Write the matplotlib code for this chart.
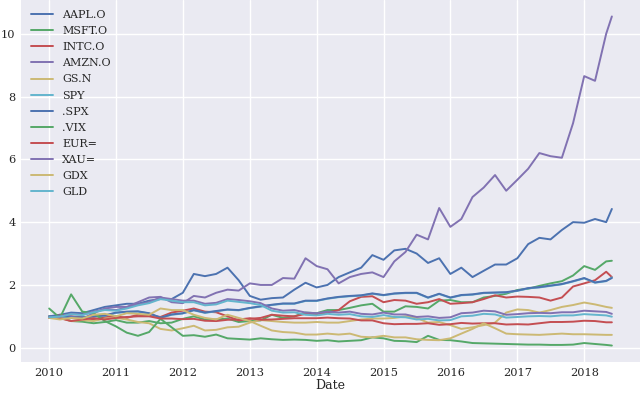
import pandas as pd
import matplotlib
matplotlib.use("Agg")
import matplotlib.pyplot as plt
import matplotlib.dates as mdates

# every second month from Jan 2010, plus the last month (Jun 2018)
months = list(range(0, 101, 2)) + [101]
dates = [pd.Timestamp("2010-01-01") + pd.DateOffset(months=m) for m in months]

aapl = [1.0, 1.05, 1.12, 1.1, 1.2, 1.3,
        1.35, 1.4, 1.4, 1.5, 1.55, 1.55,
        1.75, 2.35, 2.28, 2.35, 2.55, 2.15,
        1.65, 1.53, 1.58, 1.6, 1.85, 2.07,
        1.92, 2.0, 2.25, 2.4, 2.55, 2.95,
        2.8, 3.1, 3.15, 3.0, 2.7, 2.85,
        2.35, 2.55, 2.25, 2.45, 2.65, 2.65,
        2.85, 3.3, 3.5, 3.45, 3.75, 4.0,
        3.98, 4.1, 4.0, 4.42]
msft = [1.0, 0.97, 0.85, 0.83, 0.78, 0.82,
        0.88, 0.8, 0.8, 0.85, 0.78, 0.8,
        0.92, 1.0, 0.9, 0.9, 0.93, 0.82,
        0.85, 0.87, 1.05, 0.95, 1.0, 1.12,
        1.1, 1.2, 1.2, 1.27, 1.35, 1.4,
        1.15, 1.15, 1.32, 1.3, 1.25, 1.5,
        1.52, 1.45, 1.45, 1.6, 1.65, 1.72,
        1.84, 1.88, 1.97, 2.05, 2.12, 2.3,
        2.6, 2.48, 2.75, 2.77]
intc = [0.95, 1.05, 1.0, 0.97, 0.9, 0.98,
        1.0, 0.95, 1.05, 1.03, 0.98, 1.12,
        1.18, 1.25, 1.15, 1.13, 1.0, 0.87,
        0.92, 0.95, 1.05, 1.02, 1.0, 1.08,
        1.07, 1.12, 1.2, 1.48, 1.62, 1.64,
        1.45, 1.52, 1.5, 1.4, 1.45, 1.55,
        1.4, 1.42, 1.45, 1.55, 1.67, 1.6,
        1.63, 1.62, 1.6, 1.5, 1.6, 1.95,
        2.05, 2.15, 2.42, 2.25]
amzn = [1.0, 0.98, 1.0, 0.92, 1.1, 1.25,
        1.3, 1.3, 1.45, 1.6, 1.62, 1.45,
        1.42, 1.65, 1.6, 1.75, 1.85, 1.82,
        2.05, 2.0, 2.0, 2.22, 2.2, 2.85,
        2.6, 2.5, 2.05, 2.25, 2.35, 2.4,
        2.25, 2.75, 3.05, 3.6, 3.45, 4.45,
        3.85, 4.1, 4.8, 5.1, 5.5, 5.0,
        5.35, 5.7, 6.2, 6.1, 6.05, 7.15,
        8.65, 8.5, 10.0, 10.55]
gs = [1.0, 0.95, 0.85, 0.88, 0.85, 0.93,
      0.95, 0.9, 0.82, 0.78, 0.6, 0.55,
      0.62, 0.7, 0.55, 0.57, 0.65, 0.67,
      0.8, 0.88, 0.85, 0.82, 0.8, 0.8,
      0.82, 0.8, 0.8, 0.85, 0.9, 0.93,
      0.93, 0.95, 1.0, 0.95, 0.8, 0.82,
      0.72, 0.6, 0.65, 0.72, 0.8, 1.12,
      1.22, 1.2, 1.12, 1.2, 1.3, 1.36,
      1.44, 1.38, 1.3, 1.27]
spy = [0.99, 1.02, 0.95, 0.96, 0.99, 1.02,
       1.11, 1.14, 1.15, 1.09, 0.95, 1.05,
       1.09, 1.19, 1.11, 1.16, 1.21, 1.19,
       1.26, 1.31, 1.36, 1.4, 1.4, 1.49,
       1.49, 1.56, 1.61, 1.64, 1.66, 1.72,
       1.67, 1.72, 1.74, 1.74, 1.59, 1.71,
       1.59, 1.67, 1.69, 1.74, 1.75, 1.76,
       1.81, 1.89, 1.92, 1.97, 2.02, 2.11,
       2.21, 2.07, 2.12, 2.24]
spx = [1.0, 1.03, 0.96, 0.97, 1.0, 1.03,
       1.12, 1.15, 1.16, 1.1, 0.96, 1.06,
       1.1, 1.2, 1.12, 1.17, 1.22, 1.2,
       1.27, 1.32, 1.37, 1.41, 1.41, 1.5,
       1.5, 1.57, 1.62, 1.65, 1.67, 1.73,
       1.68, 1.73, 1.75, 1.75, 1.6, 1.72,
       1.6, 1.68, 1.7, 1.75, 1.76, 1.77,
       1.82, 1.9, 1.93, 1.98, 2.03, 2.12,
       2.22, 2.08, 2.13, 2.22]
vix = [1.25, 0.95, 1.7, 1.15, 1.1, 0.85,
       0.68, 0.48, 0.38, 0.5, 0.92, 0.65,
       0.38, 0.4, 0.35, 0.42, 0.3, 0.28,
       0.26, 0.3, 0.27, 0.25, 0.26, 0.25,
       0.22, 0.24, 0.2, 0.22, 0.24, 0.33,
       0.3, 0.22, 0.21, 0.18, 0.38, 0.25,
       0.24, 0.2, 0.15, 0.14, 0.13, 0.12,
       0.11, 0.1, 0.1, 0.09, 0.09, 0.1,
       0.15, 0.12, 0.09, 0.07]
eur = [0.96, 0.94, 0.85, 0.9, 0.94, 0.9,
       0.95, 0.98, 1.0, 1.0, 0.93, 0.93,
       0.91, 0.92, 0.86, 0.85, 0.89, 0.9,
       0.94, 0.89, 0.9, 0.92, 0.94, 0.94,
       0.94, 0.96, 0.94, 0.93, 0.87, 0.87,
       0.78, 0.75, 0.76, 0.76, 0.78, 0.73,
       0.75, 0.79, 0.77, 0.78, 0.78, 0.74,
       0.75, 0.74, 0.78, 0.82, 0.82, 0.83,
       0.86, 0.85, 0.81, 0.81]
xau = [0.97, 1.0, 1.08, 1.05, 1.15, 1.22,
       1.2, 1.28, 1.38, 1.45, 1.6, 1.55,
       1.5, 1.5, 1.4, 1.43, 1.55, 1.52,
       1.48, 1.42, 1.25, 1.18, 1.2, 1.12,
       1.1, 1.15, 1.12, 1.15, 1.08, 1.06,
       1.12, 1.06, 1.06, 0.98, 1.0, 0.95,
       0.97, 1.1, 1.12, 1.18, 1.16, 1.05,
       1.07, 1.1, 1.11, 1.1, 1.13, 1.13,
       1.18, 1.16, 1.14, 1.08]
gdx = [0.95, 0.9, 0.95, 0.93, 1.05, 1.08,
       1.0, 1.1, 1.08, 1.05, 1.25, 1.2,
       1.2, 1.05, 0.95, 0.9, 1.05, 0.95,
       0.85, 0.7, 0.55, 0.5, 0.48, 0.42,
       0.42, 0.45, 0.42, 0.45, 0.35, 0.33,
       0.38, 0.33, 0.33, 0.27, 0.25, 0.24,
       0.3, 0.45, 0.6, 0.78, 0.62, 0.45,
       0.43, 0.42, 0.41, 0.43, 0.45, 0.43,
       0.43, 0.42, 0.41, 0.41]
gld = [0.97, 0.99, 1.07, 1.04, 1.13, 1.2,
       1.18, 1.25, 1.35, 1.42, 1.55, 1.5,
       1.45, 1.45, 1.35, 1.38, 1.5, 1.46,
       1.42, 1.36, 1.18, 1.12, 1.13, 1.05,
       1.03, 1.08, 1.05, 1.07, 1.0, 0.98,
       1.04, 0.98, 0.97, 0.9, 0.92, 0.87,
       0.88, 1.0, 1.02, 1.08, 1.06, 0.96,
       0.98, 1.0, 1.01, 1.0, 1.03, 1.03,
       1.07, 1.05, 1.03, 0.99]

names = ['AAPL.O', 'MSFT.O', 'INTC.O', 'AMZN.O', 'GS.N', 'SPY',
         '.SPX', '.VIX', 'EUR=', 'XAU=', 'GDX', 'GLD']
series = [aapl, msft, intc, amzn, gs, spy, spx, vix, eur, xau, gdx, gld]

plt.style.use('seaborn-v0_8')
plt.rcParams['font.family'] = 'serif'

fig = plt.figure(figsize=(6.4, 3.95), dpi=100)
ax = fig.add_axes([21 / 640, 33 / 395, 619 / 640, 362 / 395])

for name, vals in zip(names, series):
    ax.plot(dates, vals, label=name, linewidth=1.4)

ax.xaxis.set_major_locator(mdates.YearLocator())
ax.xaxis.set_major_formatter(mdates.DateFormatter('%Y'))
ax.tick_params(labelsize=8.2, pad=4)
ax.set_xlabel('Date', fontsize=9, labelpad=1)
ax.legend(loc='upper left', fontsize=8, labelspacing=0.55)

fig.savefig('out.png', dpi=100)
